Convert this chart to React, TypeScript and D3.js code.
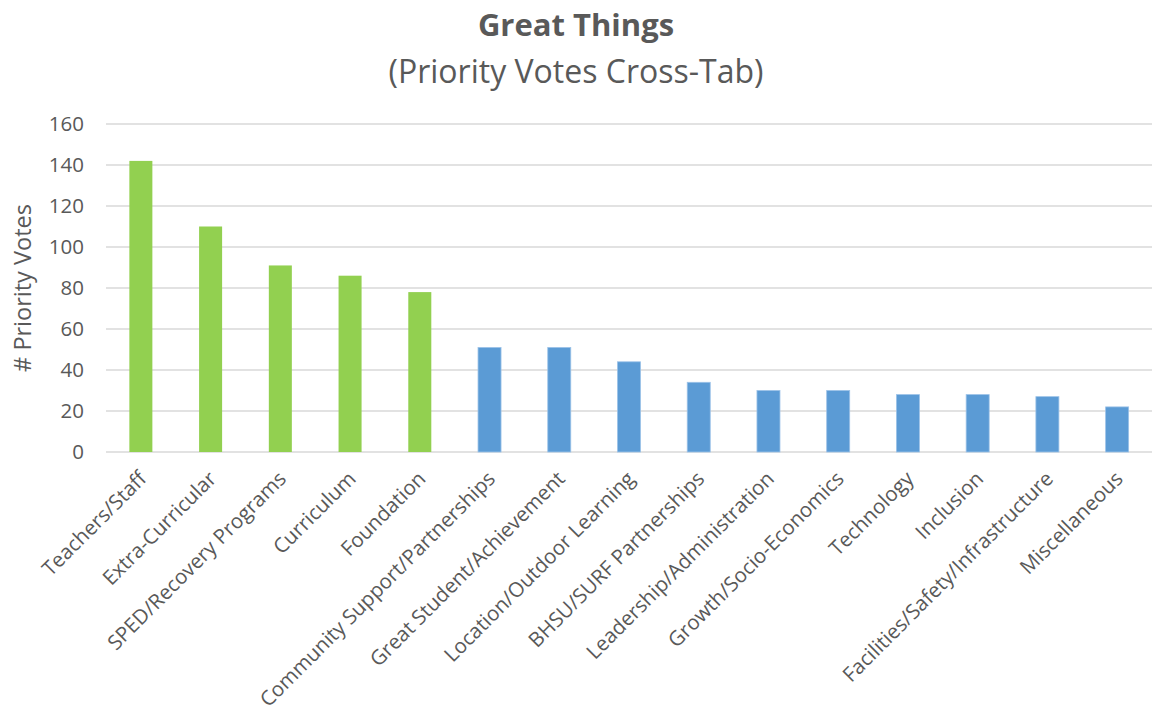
import React from "react";
import * as d3 from "d3";

const categories = [
  "Teachers/Staff",
  "Extra-Curricular",
  "SPED/Recovery Programs",
  "Curriculum",
  "Foundation",
  "Community Support/Partnerships",
  "Great Student/Achievement",
  "Location/Outdoor Learning",
  "BHSU/SURF Partnerships",
  "Leadership/Administration",
  "Growth/Socio-Economics",
  "Technology",
  "Inclusion",
  "Facilities/Safety/Infrastructure",
  "Miscellaneous",
];
const votes = [142, 110, 91, 86, 78, 51, 51, 44, 34, 30, 30, 28, 28, 27, 22];
const highlighted = [true, true, true, true, true, false, false, false, false, false, false, false, false, false, false];
const yTicks = [0, 20, 40, 60, 80, 100, 120, 140, 160];

const W = 1157;
const H = 715;
const FONT = "'Open Sans', 'Noto Sans', sans-serif";
const TEXT = "#595959";

export default function App() {
  const x = d3
    .scaleBand<string>()
    .domain(categories)
    .range([106, 1152])
    .paddingInner(0.67)
    .paddingOuter(0.335);
  const y = d3.scaleLinear().domain([0, 160]).range([452, 124]);

  return (
    <svg
      width={W}
      height={H}
      style={{ position: "absolute", left: 0, top: 0, background: "#fff" }}
      fontFamily={FONT}
    >
      <rect x={0} y={0} width={W} height={H} fill="#fff" />
      <text x={576} y={36} textAnchor="middle" fontSize={31} fontWeight={700} fill={TEXT}>
        Great Things
      </text>
      <text x={576} y={83} textAnchor="middle" fontSize={32} fill={TEXT}>
        (Priority Votes Cross-Tab)
      </text>

      {yTicks.map((t) => (
        <g key={t}>
          <line x1={106} x2={1152} y1={y(t)} y2={y(t)} stroke="#d9d9d9" strokeWidth={1.6} />
          <text x={84} y={y(t)} dy="0.36em" textAnchor="end" fontSize={20.5} fill={TEXT}>
            {t}
          </text>
        </g>
      ))}

      <text
        transform={`translate(31, ${(y(0) + y(160)) / 2}) rotate(-90)`}
        textAnchor="middle"
        fontSize={23.5}
        fill={TEXT}
      >
        # Priority Votes
      </text>

      {categories.map((c, i) => (
        <rect
          key={c}
          x={x(c)}
          y={y(votes[i])}
          width={x.bandwidth()}
          height={y(0) - y(votes[i])}
          fill={highlighted[i] ? "#92D050" : "#5B9BD5"}
          stroke={highlighted[i] ? "none" : "#9cc2e8"}
          strokeWidth={0.8}
        />
      ))}

      {categories.map((c) => {
        const cx = (x(c) as number) + x.bandwidth() / 2;
        return (
          <text
            key={c}
            transform={`translate(${cx + 7}, ${480}) rotate(-45)`}
            textAnchor="end"
            fontSize={20.5}
            fill={TEXT}
          >
            {c}
          </text>
        );
      })}
    </svg>
  );
}
